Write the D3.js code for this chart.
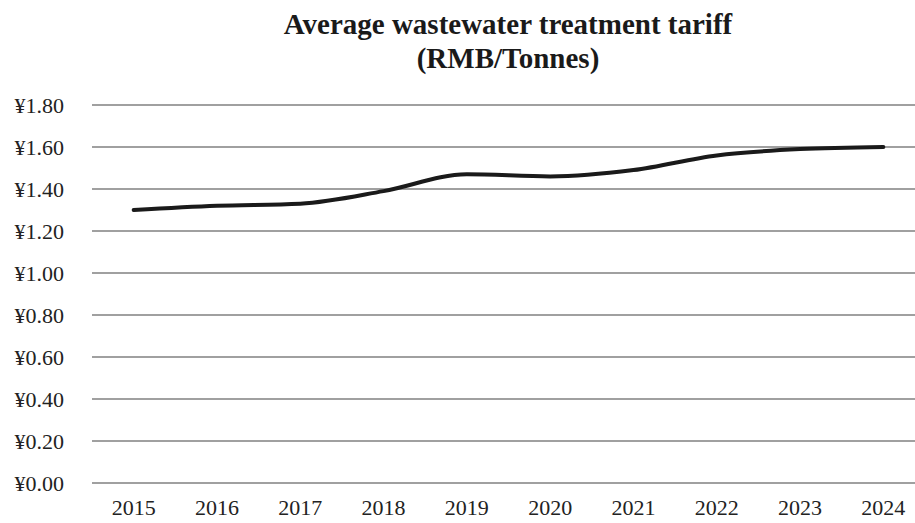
<!DOCTYPE html>
<html>
<head>
<meta charset="utf-8">
<script src="https://cdn.jsdelivr.net/npm/d3@7"></script>
<style>
  body { margin: 0; background: #fff; }
  svg { display: block; }
</style>
</head>
<body>
<div id="chart"></div>
<script>
const years = ["2015", "2016", "2017", "2018", "2019", "2020", "2021", "2022", "2023", "2024"];
const tariff = [1.30, 1.32, 1.33, 1.39, 1.47, 1.46, 1.49, 1.56, 1.59, 1.60];
const yTicks = [0, 0.2, 0.4, 0.6, 0.8, 1.0, 1.2, 1.4, 1.6, 1.8];
const titleLines = ["Average wastewater treatment tariff", "(RMB/Tonnes)"];

const width = 915;
const height = 523;
const font = "'Liberation Serif', 'Times New Roman', serif";

const x = d3.scaleBand()
    .domain(years)
    .range([92, 925]);

const y = d3.scaleLinear()
    .domain([0, 1.8])
    .range([483, 105]);

const svg = d3.select("#chart").append("svg")
    .attr("width", width)
    .attr("height", height)
    .attr("viewBox", [0, 0, width, height]);

// Title
svg.append("g")
    .selectAll("text")
    .data(titleLines)
    .join("text")
      .attr("x", 508)
      .attr("y", (d, i) => 34 + i * 34)
      .attr("text-anchor", "middle")
      .attr("font-family", font)
      .attr("font-weight", "bold")
      .attr("font-size", 29)
      .attr("fill", "#1a1a1a")
      .text(d => d);

// Gridlines
svg.append("g")
    .selectAll("line")
    .data(yTicks)
    .join("line")
      .attr("x1", 92)
      .attr("x2", width)
      .attr("y1", d => y(d))
      .attr("y2", d => y(d))
      .attr("stroke", "#a0a0a0")
      .attr("stroke-width", 2.2);

// Y axis labels
svg.append("g")
    .attr("transform", "translate(64,0)")
    .call(d3.axisLeft(y).tickValues(yTicks).tickSize(0).tickPadding(0)
        .tickFormat(d => "¥" + d3.format(".2f")(d)))
    .call(g => g.select(".domain").remove())
    .call(g => g.selectAll("text")
        .attr("font-family", font)
        .attr("font-size", 22)
        .attr("dy", "0.34em")
        .attr("fill", "#222"));

// X axis labels
svg.append("g")
    .attr("transform", "translate(0,499)")
    .call(d3.axisBottom(x).tickSize(0).tickPadding(0))
    .call(g => g.select(".domain").remove())
    .call(g => g.selectAll("text")
        .attr("font-family", font)
        .attr("font-size", 22)
        .attr("fill", "#222"));

// Line
const line = d3.line()
    .x((d, i) => x(years[i]) + x.bandwidth() / 2)
    .y(d => y(d))
    .curve(d3.curveMonotoneX);

svg.append("path")
    .datum(tariff)
    .attr("fill", "none")
    .attr("stroke", "#1a1a1a")
    .attr("stroke-width", 4)
    .attr("stroke-linecap", "round")
    .attr("d", line);
</script>
</body>
</html>
